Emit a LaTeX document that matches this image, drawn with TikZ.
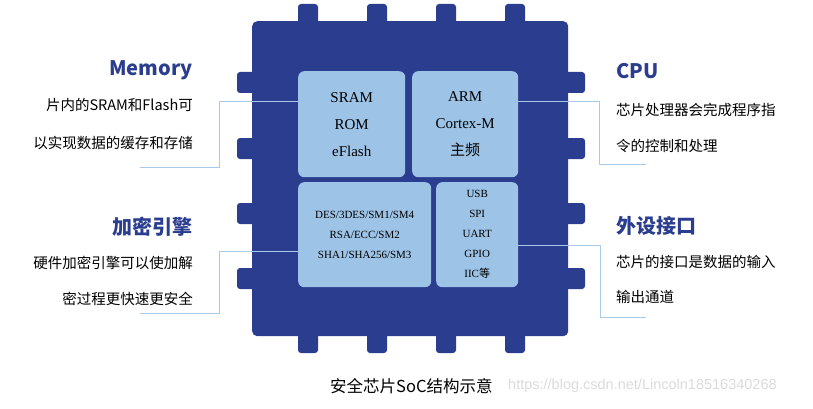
\documentclass[tikz,border=0pt]{standalone}
\usepackage{fontspec}
\setmainfont{Liberation Serif}
\newfontfamily\cjk{Noto Sans CJK SC}
\newfontfamily\wm{Liberation Sans}
\definecolor{chip}{HTML}{2A3D8F}
\definecolor{inner}{HTML}{9DC3E6}
\definecolor{wire}{HTML}{A9CAEA}
\definecolor{mark}{HTML}{DCDCDC}
\begin{document}
\begin{tikzpicture}[x=1pt,y=-1pt,
  pin/.style={fill=chip, rounded corners=3pt},
  chipbody/.style={fill=chip, rounded corners=5pt, inner sep=0pt, anchor=north west},
  box/.style={fill=inner, rounded corners=6pt, align=center, inner sep=0pt, anchor=north west, text=black},
  big/.style={font=\fontsize{15}{27}\selectfont},
  small/.style={font=\fontsize{11}{20}\selectfont},
  conn/.style={draw=wire, line width=0.9pt},
  head/.style={text=chip, inner sep=0pt, font=\cjk\bfseries\fontsize{20}{24}\selectfont},
  desc/.style={text=black, inner sep=0pt, font=\cjk\fontsize{14.5}{18}\selectfont}]
\useasboundingbox[fill=white] (0,0) rectangle (813,409);
% pins
\foreach \x in {298,367,436,505} {
  \fill[pin] (\x,4) rectangle (\x+20,30);
  \fill[pin] (\x,327) rectangle (\x+20,353);
}
\foreach \y in {72,138,203,268} {
  \fill[pin] (237,\y) rectangle (262,\y+21);
  \fill[pin] (558,\y) rectangle (585,\y+21);
}
% body
\node[chipbody, minimum width=316pt, minimum height=315pt] (chip) at (252,21) {};
% inner boxes
\node[box, big, minimum width=107pt, minimum height=106pt] (mem) at (298,71) {SRAM\\ROM\\eFlash};
\node[box, big, minimum width=106pt, minimum height=106pt] (cpu) at (412,71) {ARM\\Cortex-M\\{\cjk 主频}};
\node[box, small, minimum width=133pt, minimum height=105pt] (enc) at (298,182) {DES/3DES/SM1/SM4\\RSA/ECC/SM2\\SHA1/SHA256/SM3};
\node[box, small, minimum width=82pt, minimum height=105pt] (io) at (436,182) {USB\\SPI\\UART\\GPIO\\IIC{\cjk 等}};
% connector corner points
\coordinate (m1) at (219,101); \coordinate (m2) at (219,167); \coordinate (m3) at (140,167);
\coordinate (e1) at (219,251); \coordinate (e2) at (219,313); \coordinate (e3) at (140,313);
\coordinate (c1) at (599,101); \coordinate (c2) at (599,164); \coordinate (c3) at (646,164);
\coordinate (i1) at (600,245); \coordinate (i2) at (600,317); \coordinate (i3) at (646,317);
\draw[conn] (mem.west |- m1) -- (m1) -- (m2) -- (m3);
\draw[conn] (enc.west |- e1) -- (e1) -- (e2) -- (e3);
\draw[conn] (cpu.east |- c1) -- (c1) -- (c2) -- (c3);
\draw[conn] (io.east |- i1) -- (i1) -- (i2) -- (i3);
% left texts
\node[head, anchor=east] (memh) at (193,70) {Memory};
\node[desc, anchor=east] (memd1) at (193,105) {片内的SRAM和Flash可};
\node[desc, anchor=east] (memd2) at (193,143) {以实现数据的缓存和存储};
\node[head, anchor=east] (ench) at (193,227) {加密引擎};
\node[desc, anchor=east] (encd1) at (193,263) {硬件加密引擎可以使加解};
\node[desc, anchor=east] (encd2) at (193,299) {密过程更快速更安全};
% right texts
\node[head, anchor=west] (cpuh) at (616,71) {CPU};
\node[desc, anchor=west] (cpud1) at (616,110) {芯片处理器会完成程序指};
\node[desc, anchor=west] (cpud2) at (616,146) {令的控制和处理};
\node[head, anchor=west] (ioh) at (616,226) {外设接口};
\node[desc, anchor=west] (iod1) at (616,262) {芯片的接口是数据的输入};
\node[desc, anchor=west] (iod2) at (616,297) {输出通道};
% caption
\node[text=black, inner sep=0pt, anchor=west, font=\cjk\fontsize{16.5}{20}\selectfont] (cap) at (330,386) {安全芯片SoC结构示意};
\node[text=mark, inner sep=0pt, anchor=west, font=\wm\fontsize{14.5}{18}\selectfont] (url) at (508,386) {https://blog.csdn.net/Lincoln18516340268};
\end{tikzpicture}
\end{document}
